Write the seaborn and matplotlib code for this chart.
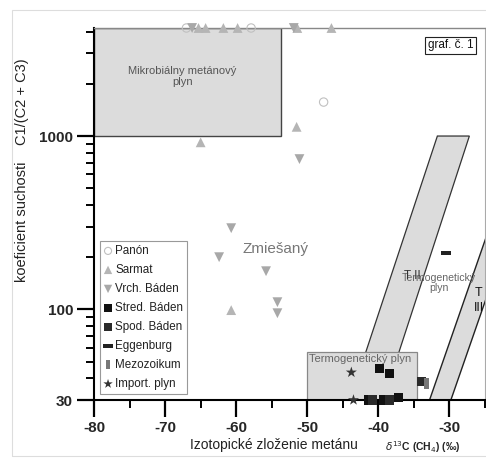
import matplotlib
matplotlib.use("Agg")
import matplotlib.pyplot as plt
import matplotlib.ticker as mticker
from matplotlib.patches import Rectangle
import pandas as pd
import seaborn as sns

# --- Data --------------------------------------------------------------------
Y_TOP = 4200  # upper limit of the y axis; points drawn on it are off-scale

panon_x = [-67.0, -57.9, -47.7]
panon_y = [Y_TOP, Y_TOP, 1570]

sarmat_x = [-65.3, -64.3, -61.8, -59.8, -51.4, -46.6, -51.5, -65.0, -60.7]
sarmat_y = [Y_TOP, Y_TOP, Y_TOP, Y_TOP, Y_TOP, Y_TOP, 1130, 920, 99]

vrch_x = [-66.2, -51.9, -51.1, -60.7, -62.4, -55.8, -54.2, -54.2]
vrch_y = [Y_TOP, Y_TOP, 736, 294, 200, 166, 110, 95]

stred_x = [-39.9, -38.5, -41.4, -39.3, -37.2]
stred_y = [45.6, 42.7, 30, 30, 31]

spod_x = [-40.8, -38.5, -33.9]
spod_y = [30, 30, 38.5]

eggen_x = [-30.5]
eggen_y = [211]

mezo_x = [-33.2]
mezo_y = [37.5]

import_x = [-43.8, -43.5]
import_y = [43.3, 30]

# zone outlines (x, y)
mikro_x = [-80, -53.7, -53.7, -80]
mikro_y = [1000, 1000, Y_TOP, Y_TOP]
termo_x = [-50, -34.5, -34.5, -50]
termo_y = [30, 30, 57, 57]
t2_x = [-44.0, -39.3, -27.2, -31.7]
t2_y = [30, 30, 1000, 1000]
t3_x = [-32.8, -29.8, -16.9, -19.9]
t3_y = [30, 30, 1000, 1000]

x_ticks = [-80, -70, -60, -50, -40, -30]
y_ticks = [30, 100, 1000]

# --- Style -------------------------------------------------------------------
sns.set_style("ticks")
plt.rcParams['font.family'] = ['Liberation Sans', 'DejaVu Sans']

fig = plt.figure(figsize=(4.86, 4.59), dpi=100)
W, H = 486, 459
ax = fig.add_axes([94 / W, 1 - 400 / H, (485 - 94) / W, (400 - 28) / H])
ax.set_yscale('log')
ax.set_xlim(-80, -25)
ax.set_ylim(30, Y_TOP)

# faint outer frame
fig.patches.append(Rectangle((12 / W, 3 / H), 1, 1 - 13 / H, transform=fig.transFigure,
                             fill=False, edgecolor='#dddddd', linewidth=0.8))

# --- Zones -------------------------------------------------------------------
zone_fc = '#dcdcdc'
ax.fill(mikro_x, mikro_y, facecolor=zone_fc, edgecolor='#444444', linewidth=1.0, zorder=1)
ax.fill(t2_x, t2_y, facecolor=zone_fc, edgecolor='#333333', linewidth=0.9, zorder=1)
ax.fill(t3_x, t3_y, facecolor=zone_fc, edgecolor='#222222', linewidth=1.0, zorder=1)
ax.fill(termo_x, termo_y, facecolor=zone_fc, edgecolor='#888888', linewidth=0.9, zorder=1.5)

# --- Points ------------------------------------------------------------------
hbar = [(-1, -0.4), (1, -0.4), (1, 0.4), (-1, 0.4)]
vbar = [(-0.45, -1), (0.45, -1), (0.45, 1), (-0.45, 1)]

groups = [
    ("Panón", panon_x, panon_y, dict(marker='o', s=36, color='#c0c0c0', facecolor='none',
                                     edgecolor='#c0c0c0', linewidth=0.8)),
    ("Sarmat", sarmat_x, sarmat_y, dict(marker='^', s=50, color='#b5b5b5', edgecolor='none')),
    ("Vrch. Báden", vrch_x, vrch_y, dict(marker='v', s=50, color='#a8a8a8', edgecolor='none')),
    ("Stred. Báden", stred_x, stred_y, dict(marker='s', s=42, color='#111111', edgecolor='none')),
    ("Spod. Báden", spod_x, spod_y, dict(marker='s', s=42, color='#2a2a2a', edgecolor='none')),
    ("Eggenburg", eggen_x, eggen_y, dict(marker=hbar, s=60, color='#222222', edgecolor='none')),
    ("Mezozoikum", mezo_x, mezo_y, dict(marker=vbar, s=60, color='#777777', edgecolor='none')),
    ("Import. plyn", import_x, import_y, dict(marker='*', s=70, color='#333333', edgecolor='none')),
]
for name, gx, gy, kw in groups:
    df = pd.DataFrame({'x': gx, 'y': gy})
    sns.scatterplot(data=df, x='x', y='y', ax=ax, label=name, clip_on=False, zorder=3, **kw)

# --- Text --------------------------------------------------------------------
ax.text(-67.6, 2200, "Mikrobiálny metánový\nplyn", ha='center', va='center',
        fontsize=8, color='#555555', linespacing=1.2)
ax.text(-54.4, 222, "Zmiešaný", ha='center', va='center', fontsize=11, color='#777777')
ax.text(-42.5, 52, "Termogenetický plyn", ha='center', va='center', fontsize=8,
        color='#666666', zorder=2)
ax.text(-31.5, 142, "Termogenetický\nplyn", ha='center', va='center', fontsize=7.6,
        color='#666666', linespacing=1.1, zorder=2)
ax.text(-36.4, 155, "T II", ha='left', va='center', fontsize=8.5, color='#333333', zorder=2)
ax.text(-25.9, 112, "T\nIII", ha='center', va='center', fontsize=9, color='#111111',
        linespacing=1.35, zorder=2)
ax.text(0.912, 0.953, "graf. č. 1", transform=ax.transAxes, ha='center', va='center',
        fontsize=8.5, color='#111111',
        bbox=dict(boxstyle='square,pad=0.2', facecolor='white', edgecolor='#222222', linewidth=0.8))

# --- Axes --------------------------------------------------------------------
ax.xaxis.set_major_locator(mticker.FixedLocator(x_ticks))
ax.xaxis.set_minor_locator(mticker.MultipleLocator(5))
ax.yaxis.set_major_locator(mticker.FixedLocator(y_ticks))
ax.yaxis.set_major_formatter(mticker.FixedFormatter([str(v) for v in y_ticks]))
ax.yaxis.set_minor_locator(mticker.LogLocator(base=10, subs=range(2, 10)))
ax.yaxis.set_minor_formatter(mticker.NullFormatter())
ax.set_xticklabels([str(v) for v in x_ticks])

ax.tick_params(which='major', length=12, width=1.6, color='black', labelsize=11, pad=3)
ax.tick_params(which='minor', length=5.5, width=1.4, color='black')
for lab in ax.get_xticklabels() + ax.get_yticklabels():
    lab.set_fontweight('bold')

for side in ['left', 'bottom']:
    ax.spines[side].set_color('black')
    ax.spines[side].set_linewidth(1.5)
ax.spines['top'].set_visible(True)
ax.spines['right'].set_visible(True)
ax.spines['top'].set_color('#888888')
ax.spines['right'].set_color('#aaaaaa')
ax.spines['top'].set_linewidth(1.0)
ax.spines['right'].set_linewidth(0.8)
ax.set_xlabel('')
ax.set_ylabel('')

fig.text(22 / W, 1 - 170 / H, "koeficient suchosti    C1/(C2 + C3)", rotation=90,
         ha='center', va='center', fontsize=10.5, color='#222222')
fig.text(274 / W, 1 - 445 / H, "Izotopické zloženie metánu", ha='center', va='center',
         fontsize=10, color='#222222')
fig.text(385 / W, 1 - 447 / H, r"$\delta^{13}$C (CH$_4$) (‰)", ha='left', va='center',
         fontsize=7.5, color='#222222', fontweight='bold')

# --- Legend ------------------------------------------------------------------
leg = ax.legend(loc='lower left', bbox_to_anchor=(0.015, 0.016), fontsize=8.4,
                frameon=True, fancybox=False, framealpha=1, edgecolor='#999999',
                handlelength=0.7, handletextpad=0.25, borderpad=0.35,
                labelspacing=0.6, borderaxespad=0, markerscale=0.85)
leg.get_frame().set_linewidth(0.8)
for t in leg.get_texts():
    t.set_color('#222222')

fig.savefig('out.png', dpi=100)
